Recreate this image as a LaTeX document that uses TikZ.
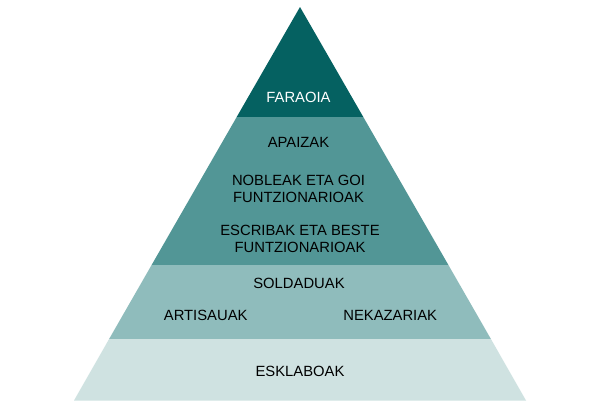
\documentclass[tikz,border=0pt]{standalone}
\usepackage{fontspec}
\setmainfont{Liberation Sans}
\definecolor{lay1}{HTML}{056161}
\definecolor{lay2}{HTML}{529696}
\definecolor{lay3}{HTML}{8FBCBC}
\definecolor{lay4}{HTML}{CFE2E1}
\begin{document}
\begin{tikzpicture}[x=1pt,y=-1pt,
  lbl/.style={font=\fontsize{14.8}{17}\selectfont, text=black, inner sep=0pt, align=center},
  wlbl/.style={lbl, text=white}]
\useasboundingbox (0,0) rectangle (600,415);
\fill[white] (0,0) rectangle (600,415);
\fill[lay1] (300,7) -- (363.3,117) -- (236.7,117) -- cycle;
\fill[lay2] (236.7,117) -- (363.3,117) -- (448.4,265) -- (151.6,265) -- cycle;
\fill[lay3] (151.6,265) -- (448.4,265) -- (490.9,339) -- (109.1,339) -- cycle;
\fill[lay4] (109.1,339) -- (490.9,339) -- (526,400.5) -- (74,400.5) -- cycle;
\node[wlbl] (faraoia) at (298.5,97) {FARAOIA};
\node[lbl] (apaizak) at (298.5,142.5) {APAIZAK};
\node[lbl] (nobleak) at (298.5,188.5) {NOBLEAK ETA GOI\\FUNTZIONARIOAK};
\node[lbl] (escribak) at (300,238.5) {ESCRIBAK ETA BESTE\\FUNTZIONARIOAK};
\node[lbl] (soldaduak) at (299,283.7) {SOLDADUAK};
\node[lbl] (artisauak) at (205.7,315.5) {ARTISAUAK};
\node[lbl] (nekazariak) at (390.2,315.5) {NEKAZARIAK};
\node[lbl] (esklaboak) at (300,371.7) {ESKLABOAK};
\end{tikzpicture}
\end{document}
